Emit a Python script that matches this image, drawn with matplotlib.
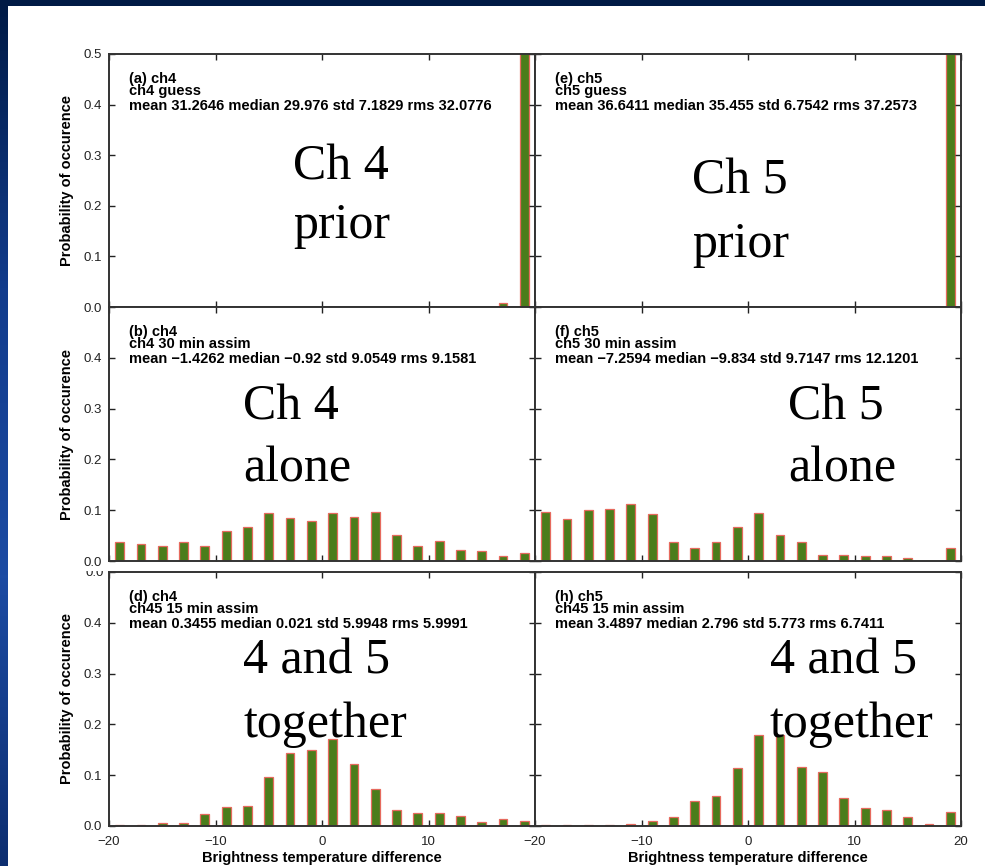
import numpy as np
import matplotlib
matplotlib.use("Agg")
import matplotlib.pyplot as plt
from matplotlib.patches import Rectangle
from matplotlib.transforms import Bbox

W, H = 985, 866

# bin centres of the histograms (bin width 2 K)
bin_centers = np.arange(-19, 20, 2)

# probability of occurence
ch4_guess = [0, 0, 0, 0, 0, 0, 0, 0, 0, 0, 0, 0, 0, 0, 0, 0, 0, 0, 0.008, 0.99]
ch5_guess = [0, 0, 0, 0, 0, 0, 0, 0, 0, 0, 0, 0, 0, 0, 0, 0, 0, 0, 0, 0.99]
ch4_30min = [0.037, 0.033, 0.030, 0.037, 0.030, 0.060, 0.067, 0.095, 0.085, 0.079,
             0.095, 0.087, 0.097, 0.052, 0.030, 0.040, 0.022, 0.019, 0.010, 0.016]
ch5_30min = [0.097, 0.082, 0.101, 0.103, 0.112, 0.093, 0.037, 0.025, 0.038, 0.067,
             0.095, 0.052, 0.037, 0.0125, 0.0125, 0.010, 0.010, 0.005, 0.0, 0.025]
ch45_ch4 = [0.001, 0.001, 0.006, 0.006, 0.023, 0.038, 0.039, 0.097, 0.143, 0.149,
            0.172, 0.123, 0.072, 0.032, 0.026, 0.026, 0.020, 0.007, 0.013, 0.009]
ch45_ch5 = [0.001, 0.001, 0.001, 0.001, 0.003, 0.009, 0.018, 0.049, 0.059, 0.114,
            0.180, 0.180, 0.116, 0.106, 0.056, 0.036, 0.032, 0.018, 0.004, 0.028]

panel_data = [ch4_guess, ch5_guess, ch4_30min, ch5_30min, ch45_ch4, ch45_ch5]
panel_tags = ["(a) ch4", "(e) ch5", "(b) ch4", "(f) ch5", "(d) ch4", "(h) ch5"]
run_names = ["ch4 guess", "ch5 guess", "ch4 30 min assim", "ch5 30 min assim",
             "ch45 15 min assim", "ch45 15 min assim"]
stats = ["mean 31.2646 median 29.976 std 7.1829 rms 32.0776",
         "mean 36.6411 median 35.455 std 6.7542 rms 37.2573",
         "mean \u22121.4262 median \u22120.92 std 9.0549 rms 9.1581",
         "mean \u22127.2594 median \u22129.834 std 9.7147 rms 12.1201",
         "mean 0.3455 median 0.021 std 5.9948 rms 5.9991",
         "mean 3.4897 median 2.796 std 5.773 rms 6.7411"]
notes = [("Ch 4", "prior"), ("Ch 5", "prior"),
         ("Ch 4", "alone"), ("Ch 5", "alone"),
         ("4 and 5", "together"), ("4 and 5", "together")]

x_ticks = [-20, -10, 0, 10, 20]
y_ticks = [0.0, 0.1, 0.2, 0.3, 0.4, 0.5]

# panel placement in pixels: (top, bottom) per row, (left, right) per column
rows = [(54, 307), (307, 561), (572, 826)]
cols = [(109, 535), (535, 961)]
# overlay note positions: left x, first baseline, second baseline
note_pos = [(293, 180, 238), (692, 193, 257),
            (243, 419, 481), (788, 419, 481),
            (243, 673, 737), (770, 673, 737)]

bar_face = "#4b7d1b"
bar_edge = "#e66a5e"
sans = "Liberation Sans"
serif = "Liberation Serif"

fig = plt.figure(figsize=(W / 100, H / 100), dpi=100)

# slide background: blue strip on the left and top, white page
bg = fig.add_axes([0, 0, 1, 1], zorder=-10)
grad = np.linspace(0, 1, 256)[:, None]
bg.imshow(grad, aspect="auto", cmap=matplotlib.colors.LinearSegmentedColormap.from_list(
    "slide", ["#001a45", "#123c8c", "#1c4ba3", "#0d2e70"]), extent=[0, 1, 0, 1])
bg.axis("off")
fig.patches.append(Rectangle((8 / W, 0), 1, 1 - 6 / H, transform=fig.transFigure,
                             facecolor="white", edgecolor="none", zorder=-5))

axes = []
for i, vals in enumerate(panel_data):
    r, c = divmod(i, 2)
    (y0, y1), (x0, x1) = rows[r], cols[c]
    ax = fig.add_axes([x0 / W, 1 - y1 / H, (x1 - x0) / W, (y1 - y0) / H])
    ax.set_facecolor("white")
    ax.bar(bin_centers, vals, width=0.82, color=bar_face, edgecolor=bar_edge, linewidth=0.9)
    ax.set_xlim(-20, 20)
    ax.set_ylim(0, 0.5)
    ax.set_xticks(x_ticks)
    ax.set_yticks(y_ticks)
    ax.tick_params(direction="in", length=4, width=1, top=True, right=True,
                   labelsize=9.5, pad=5, colors="#222222")
    ax.tick_params(axis="x", pad=7)
    for s in ax.spines.values():
        s.set_linewidth(1.4)
        s.set_color("#333333")

    if c == 0:
        labels = ["%.1f" % v for v in y_ticks]
        if r > 0:
            labels[-1] = ""
        ax.set_yticklabels(labels, family=sans)
        ax.text((67 - x0) / (x1 - x0), 0.5, "Probability of occurence", transform=ax.transAxes,
                rotation=90, ha="center", va="center", fontsize=10.5, fontweight="bold",
                family=sans, clip_on=False)
    else:
        ax.set_yticklabels([])

    if r == 2:
        xl = ["\u221220", "\u221210", "0", "10", "20"]
        if c == 0:
            xl[-1] = ""
        ax.set_xticklabels(xl, family=sans)
        fig.text((x0 + x1) / 2 / W, 1 - 862 / H, "Brightness temperature difference",
                 ha="center", va="baseline", fontsize=10.5, fontweight="bold", family=sans)
    else:
        ax.set_xticklabels([])

    # header text of each panel
    hgt = y1 - y0
    for off, txt in zip([29, 41, 56], [panel_tags[i], run_names[i], stats[i]]):
        ax.text(0.048, 1 - off / hgt, txt, transform=ax.transAxes, ha="left", va="baseline",
                fontsize=10.5, fontweight="bold", family=sans)
    axes.append(ax)

# overlay annotations of the slide
for (l1, l2), (px, b1, b2) in zip(notes, note_pos):
    fig.text(px / W, 1 - b1 / H, l1, ha="left", va="baseline", fontsize=36, family=serif, zorder=20)
    fig.text(px / W, 1 - b2 / H, l2, ha="left", va="baseline", fontsize=36, family=serif, zorder=20)

# half hidden tick label left between middle and bottom rows
frag = fig.text(104 / W, 1 - 576 / H, "0.0", ha="right", va="baseline", fontsize=9.5,
                family=sans, color="#222222")
frag.set_clip_on(True)
frag.set_clip_box(Bbox.from_extents(0, H - 580, 108, H - 571))

fig.savefig("out.png", dpi=100)
